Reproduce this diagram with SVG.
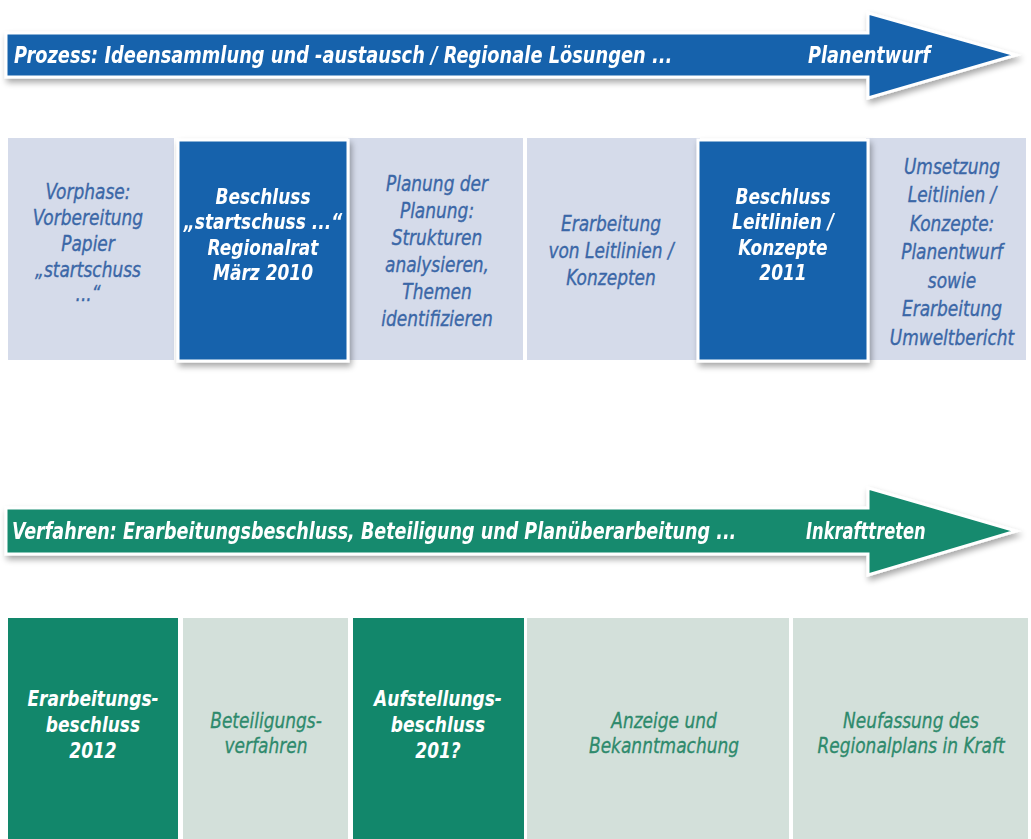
<svg xmlns="http://www.w3.org/2000/svg" width="1031" height="839" viewBox="0 0 1031 839">
  <style>
    .t { font-family: "DejaVu Sans Condensed", "DejaVu Sans", "Liberation Sans", sans-serif; font-style: italic; text-anchor: middle; }
    .title { font-size: 23px; font-weight: bold; fill: #ffffff; text-anchor: start; }
    .lb { font-size: 21px; fill: #3b67a7; stroke: #3b67a7; stroke-width: 0.35; }
    .db { font-size: 21.5px; font-weight: bold; fill: #ffffff; }
    .lg { font-size: 21px; fill: #2e8a6c; stroke: #2e8a6c; stroke-width: 0.3; }
    .dg { font-size: 21.5px; font-weight: bold; fill: #ffffff; }
    .blue-light { fill: #d5dbea; }
    .blue-dark { fill: #1562ac; stroke: #ffffff; stroke-width: 3; }
    .green-light { fill: #d3e0da; }
    .green-dark { fill: #12876b; }
  </style>
  <defs>
    <filter id="shadow" x="-10%" y="-10%" width="125%" height="130%">
      <feGaussianBlur in="SourceAlpha" stdDeviation="3"/>
      <feOffset dx="2" dy="4" result="b"/>
      <feComponentTransfer><feFuncA type="linear" slope="0.35"/></feComponentTransfer>
      <feMerge><feMergeNode/><feMergeNode in="SourceGraphic"/></feMerge>
    </filter>
  </defs>
  <rect width="1031" height="839" fill="#ffffff"/>

  <!-- process arrow -->
  <g id="arrow-prozess" filter="url(#shadow)">
    <path d="M6,33 H868 V13 L1016,55 L868,98 V77 H6 Z" fill="#1562ac" stroke="#ffffff" stroke-width="3" stroke-linejoin="miter"/>
    <text class="t title" transform="translate(14 63) scale(0.88 1)" x="0" y="0" textLength="748" lengthAdjust="spacingAndGlyphs">Prozess: Ideensammlung und -austausch / Regionale Lösungen ...</text>
    <text class="t title" transform="translate(808 63) scale(0.88 1)" x="0" y="0" textLength="139" lengthAdjust="spacingAndGlyphs">Planentwurf</text>
  </g>

  <!-- process phases -->
  <g id="p1">
    <rect class="blue-light" x="8" y="138" width="166" height="222"/>
    <text class="t lb" transform="translate(88 0) scale(0.9 1)"><tspan x="0" y="199">Vorphase:</tspan><tspan x="0" y="225">Vorbereitung</tspan><tspan x="0" y="251">Papier</tspan><tspan x="0" y="277">„startschuss</tspan><tspan x="0" y="301">...“</tspan></text>
  </g>
  <g id="p3">
    <rect class="blue-light" x="348" y="138" width="175" height="222"/>
    <text class="t lb" transform="translate(437 0) scale(0.9 1)"><tspan x="0" y="191">Planung der</tspan><tspan x="0" y="218">Planung:</tspan><tspan x="0" y="245">Strukturen</tspan><tspan x="0" y="272">analysieren,</tspan><tspan x="0" y="299">Themen</tspan><tspan x="0" y="326">identifizieren</tspan></text>
  </g>
  <g id="p4">
    <rect class="blue-light" x="527" y="138" width="173" height="222"/>
    <text class="t lb" transform="translate(611 0) scale(0.9 1)"><tspan x="0" y="231">Erarbeitung</tspan><tspan x="0" y="258">von Leitlinien /</tspan><tspan x="0" y="285">Konzepten</tspan></text>
  </g>
  <g id="p6">
    <rect class="blue-light" x="866" y="138" width="160" height="222"/>
    <text class="t lb" transform="translate(952 0) scale(0.9 1)"><tspan x="0" y="174">Umsetzung</tspan><tspan x="0" y="202.5">Leitlinien /</tspan><tspan x="0" y="231">Konzepte:</tspan><tspan x="0" y="259.5">Planentwurf</tspan><tspan x="0" y="288">sowie</tspan><tspan x="0" y="316.5">Erarbeitung</tspan><tspan x="0" y="345">Umweltbericht</tspan></text>
  </g>
  <g id="p2" filter="url(#shadow)">
    <rect class="blue-dark" x="178" y="140" width="170" height="221"/>
    <text class="t db" transform="translate(263 0) scale(0.88 1)"><tspan x="0" y="204">Beschluss</tspan><tspan x="0" y="229.5">„startschuss ...“</tspan><tspan x="0" y="255">Regionalrat</tspan><tspan x="0" y="280.5">März 2010</tspan></text>
  </g>
  <g id="p5" filter="url(#shadow)">
    <rect class="blue-dark" x="698" y="140" width="170" height="221"/>
    <text class="t db" transform="translate(783 0) scale(0.88 1)"><tspan x="0" y="204">Beschluss</tspan><tspan x="0" y="229.5">Leitlinien /</tspan><tspan x="0" y="255">Konzepte</tspan><tspan x="0" y="280.5">2011</tspan></text>
  </g>

  <!-- procedure arrow -->
  <g id="arrow-verfahren" filter="url(#shadow)">
    <path d="M6,508 H868 V488 L1016,531 L868,575 V554 H6 Z" fill="#138a6e" stroke="#ffffff" stroke-width="3" stroke-linejoin="miter"/>
    <text class="t title" transform="translate(12 539) scale(0.88 1)" x="0" y="0" textLength="823" lengthAdjust="spacingAndGlyphs">Verfahren: Erarbeitungsbeschluss, Beteiligung und Planüberarbeitung ...</text>
    <text class="t title" transform="translate(806 539) scale(0.88 1)" x="0" y="0" textLength="136" lengthAdjust="spacingAndGlyphs">Inkrafttreten</text>
  </g>

  <!-- procedure steps -->
  <g id="v1">
    <rect class="green-dark" x="8" y="618" width="170" height="221"/>
    <text class="t dg" transform="translate(93 0) scale(0.88 1)"><tspan x="0" y="706">Erarbeitungs-</tspan><tspan x="0" y="732">beschluss</tspan><tspan x="0" y="758">2012</tspan></text>
  </g>
  <g id="v2">
    <rect class="green-light" x="183" y="618" width="165" height="221"/>
    <text class="t lg" transform="translate(266 0) scale(0.9 1)"><tspan x="0" y="728">Beteiligungs-</tspan><tspan x="0" y="753">verfahren</tspan></text>
  </g>
  <g id="v3">
    <rect class="green-dark" x="353" y="618" width="171" height="221"/>
    <text class="t dg" transform="translate(438 0) scale(0.88 1)"><tspan x="0" y="706">Aufstellungs-</tspan><tspan x="0" y="732">beschluss</tspan><tspan x="0" y="758">201?</tspan></text>
  </g>
  <g id="v4">
    <rect class="green-light" x="527" y="618" width="262" height="221"/>
    <text class="t lg" transform="translate(664 0) scale(0.9 1)"><tspan x="0" y="728">Anzeige und</tspan><tspan x="0" y="753">Bekanntmachung</tspan></text>
  </g>
  <g id="v5">
    <rect class="green-light" x="793" y="618" width="235" height="221"/>
    <text class="t lg" transform="translate(911 0) scale(0.9 1)"><tspan x="0" y="728">Neufassung des</tspan><tspan x="0" y="753">Regionalplans in Kraft</tspan></text>
  </g>
</svg>
